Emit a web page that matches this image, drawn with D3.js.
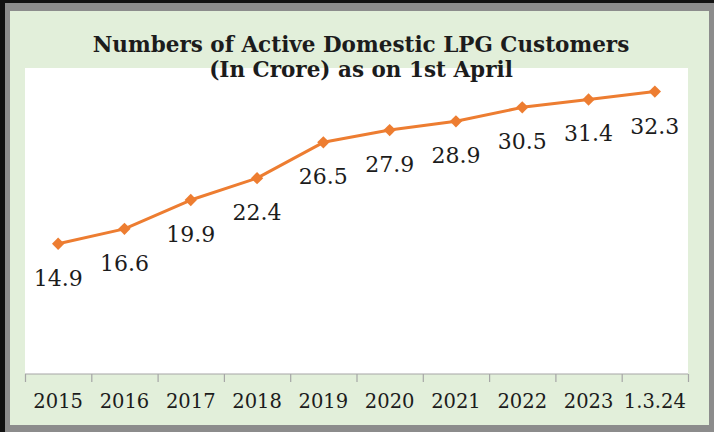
<!DOCTYPE html>
<html>
<head>
<meta charset="utf-8">
<script src="https://cdn.jsdelivr.net/npm/d3@7"></script>
<style>
  body { margin: 0; background: #fff; }
  text { font-family: 'DejaVu Serif', serif; fill: #1c1c1c; }
</style>
</head>
<body>
<svg id="chart" width="714" height="432"></svg>
<script>
// data
const years = ['2015', '2016', '2017', '2018', '2019', '2020', '2021', '2022', '2023', '1.3.24']
const customers = [14.9, 16.6, 19.9, 22.4, 26.5, 27.9, 28.9, 30.5, 31.4, 32.3]
const titleLines = ['Numbers of Active Domestic LPG Customers', '(In Crore) as on 1st April']

const W = 714, H = 432
const plot = {left: 25, right: 688, top: 68, bottom: 374}
const orange = '#ED7D31'

const svg = d3.select('#chart')

// frame: black edge, grey shadow, green panel
svg.append('rect').attr('width', W).attr('height', H).attr('fill', '#111')
svg.append('rect').attr('x', 5).attr('y', 3).attr('width', W - 5).attr('height', H - 3).attr('fill', '#8c8c8c')
svg.append('rect').attr('x', 10).attr('y', 11).attr('width', 699).attr('height', 414).attr('fill', '#E2EFDA')

// plot area
svg.append('rect')
    .attr('x', plot.left).attr('y', plot.top)
    .attr('width', plot.right - plot.left).attr('height', plot.bottom - plot.top)
    .attr('fill', '#fff')

// scales
const x = d3.scaleBand().domain(years).range([plot.left, plot.right])
const xEdge = d3.scaleLinear().domain([0, years.length]).range([plot.left, plot.right])
const y = d3.scaleLinear().domain([0, 35]).range([plot.bottom, plot.top])
const cx = d => x(d) + x.bandwidth() / 2

// axis: tick marks between categories
const tickAxis = svg.append('g')
    .attr('transform', `translate(0,${plot.bottom})`)
    .call(d3.axisBottom(xEdge).tickValues(d3.range(years.length + 1)).tickFormat('').tickSize(8).tickSizeOuter(0))
tickAxis.selectAll('line, path').attr('stroke', '#a6a6a6').attr('stroke-width', 1.2)
tickAxis.select('.domain').remove()
svg.append('line')
    .attr('x1', plot.left).attr('x2', plot.right)
    .attr('y1', plot.bottom).attr('y2', plot.bottom)
    .attr('stroke', '#a6a6a6').attr('stroke-width', 1.2)

const labelAxis = svg.append('g')
    .attr('transform', `translate(0,${plot.bottom})`)
    .call(d3.axisBottom(x).tickSize(0).tickPadding(20))
labelAxis.select('.domain').remove()
labelAxis.selectAll('text')
    .attr('font-family', 'DejaVu Serif').attr('font-size', 19.5).attr('fill', '#1c1c1c')

// line + markers
const line = d3.line().x((d, i) => cx(years[i])).y(d => y(d))
svg.append('path')
    .datum(customers)
    .attr('d', line)
    .attr('fill', 'none').attr('stroke', orange).attr('stroke-width', 3)
    .attr('stroke-linejoin', 'round')

svg.selectAll('path.marker').data(customers).enter().append('path')
    .attr('class', 'marker')
    .attr('d', d3.symbol().type(d3.symbolSquare).size(76))
    .attr('transform', (d, i) => `translate(${cx(years[i])},${y(d)}) rotate(45)`)
    .attr('fill', orange)

// data labels below points
svg.selectAll('text.value').data(customers).enter().append('text')
    .attr('class', 'value')
    .attr('x', (d, i) => cx(years[i]))
    .attr('y', d => y(d) + 34)
    .attr('dy', '0.36em')
    .attr('text-anchor', 'middle')
    .attr('font-size', 22)
    .text(d => d.toFixed(1))

// title
svg.selectAll('text.title').data(titleLines).enter().append('text')
    .attr('class', 'title')
    .attr('x', 361)
    .attr('y', (d, i) => 52 + i * 25)
    .attr('text-anchor', 'middle')
    .attr('font-size', 21.5)
    .attr('font-weight', 'bold')
    .text(d => d)
</script>
</body>
</html>
